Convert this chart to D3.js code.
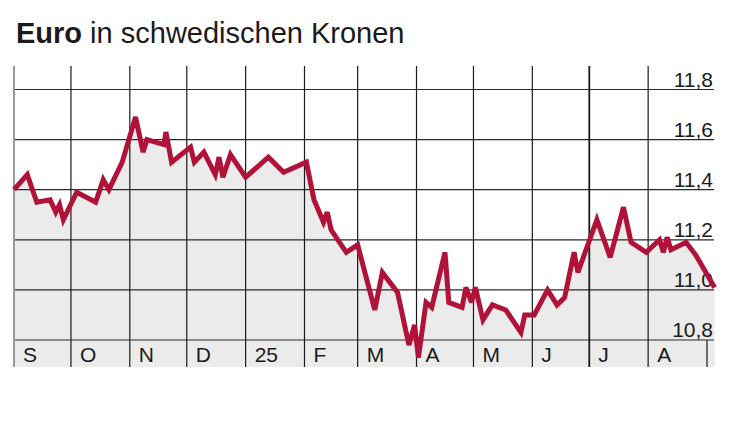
<!DOCTYPE html>
<html>
<head>
<meta charset="utf-8">
<script src="https://cdn.jsdelivr.net/npm/d3@7"></script>
<style>
  html, body { margin: 0; padding: 0; background: #fff; }
  svg { display: block; }
  text { font-family: "Liberation Sans", Arial, Helvetica, sans-serif; fill: #1a1a1a; }
</style>
</head>
<body>
<svg id="chart" width="750" height="421"></svg>
<script>
// ---- data ----
const dates = [
  "2024-09-01","2024-09-08","2024-09-13","2024-09-20","2024-09-23","2024-09-25","2024-09-27",
  "2024-10-04","2024-10-14","2024-10-18","2024-10-21","2024-10-28",
  "2024-11-04","2024-11-08","2024-11-10","2024-11-19","2024-11-20","2024-11-23",
  "2024-12-03","2024-12-05","2024-12-10","2024-12-16","2024-12-18","2024-12-20","2024-12-24",
  "2025-01-01","2025-01-13","2025-01-21",
  "2025-02-02","2025-02-06","2025-02-11","2025-02-13","2025-02-15","2025-02-23",
  "2025-03-01","2025-03-10","2025-03-14","2025-03-22","2025-03-28","2025-03-31",
  "2025-04-02","2025-04-06","2025-04-09","2025-04-16","2025-04-18","2025-04-25","2025-04-27","2025-04-30",
  "2025-05-02","2025-05-06","2025-05-11","2025-05-18","2025-05-26","2025-05-28",
  "2025-06-02","2025-06-09","2025-06-14","2025-06-18","2025-06-23","2025-06-25",
  "2025-07-05","2025-07-12","2025-07-19","2025-07-23","2025-07-31",
  "2025-08-07","2025-08-09","2025-08-11","2025-08-13","2025-08-21","2025-08-26",
  "2025-09-05"
];
const values = [
  11.40,11.46,11.35,11.36,11.31,11.34,11.28,
  11.39,11.35,11.44,11.40,11.51,
  11.69,11.55,11.60,11.58,11.63,11.51,
  11.57,11.51,11.55,11.46,11.53,11.45,11.54,
  11.45,11.53,11.47,
  11.51,11.36,11.27,11.31,11.24,11.15,
  11.18,10.92,11.07,10.99,10.78,10.86,
  10.73,10.95,10.93,11.15,10.95,10.93,11.01,10.95,
  11.01,10.88,10.94,10.92,10.83,10.90,
  10.90,11.00,10.94,10.97,11.15,11.07,
  11.28,11.13,11.33,11.19,11.15,
  11.20,11.15,11.21,11.16,11.19,11.14,
  11.01
];
const monthStarts = [
  "2024-09-01","2024-10-01","2024-11-01","2024-12-01","2025-01-01","2025-02-01",
  "2025-03-01","2025-04-01","2025-05-01","2025-06-01","2025-07-01","2025-08-01","2025-09-01"
];
const monthLabels = ["S","O","N","D","25","F","M","A","M","J","J","A"];
const yTicks = [10.8, 11.0, 11.2, 11.4, 11.6, 11.8];
const yTickLabels = ["10,8","11,0","11,2","11,4","11,6","11,8"];
const titleBold = "Euro";
const titleRest = " in schwedischen Kronen";

// ---- layout ----
const parse = d3.timeParse("%Y-%m-%d");
const data = dates.map((d, i) => ({ date: parse(d), value: values[i] }));
const months = monthStarts.map(parse);

const left = 14, right = 714, gridTop = 66, bottom = 367;
const x = d3.scaleTime()
  .domain([parse("2024-09-01"), parse("2025-09-01")])
  .range([left, 707]);
const y = d3.scaleLinear().domain([10.8, 11.8]).range([340, 89.5]);

const svg = d3.select("#chart");

// title
const title = svg.append("text").attr("x", 16).attr("y", 42.5).style("font-size", "29px");
title.append("tspan").attr("font-weight", "bold").text(titleBold);
title.append("tspan").text(titleRest);

// area fill under the line (down to bottom of label band)
const lastDate = data[data.length - 1].date;
const area = d3.area()
  .x(d => x(d.date))
  .y0(bottom)
  .y1(d => y(d.value));
svg.append("path")
  .datum(data)
  .attr("d", area)
  .attr("fill", "#ebebeb");

// fill the label band completely
svg.append("rect")
  .attr("x", left).attr("y", y(10.8))
  .attr("width", x(lastDate) - left).attr("height", bottom - y(10.8))
  .attr("fill", "#ebebeb");

// horizontal grid lines
svg.append("g").selectAll("line")
  .data(yTicks)
  .join("line")
  .attr("x1", left).attr("x2", right)
  .attr("y1", d => y(d)).attr("y2", d => y(d))
  .attr("stroke", "#2a2a2a").attr("stroke-width", 1.2);

// vertical month lines
svg.append("g").selectAll("line")
  .data(months.slice(1))
  .join("line")
  .attr("x1", d => x(d)).attr("x2", d => x(d))
  .attr("y1", (d, i) => i === months.length - 2 ? y(10.8) : gridTop)
  .attr("y2", bottom)
  .attr("stroke", "#1a1a1a")
  .attr("stroke-width", (d, i) => i === 9 ? 1.8 : 1.2);

// left border
svg.append("line")
  .attr("x1", left).attr("x2", left)
  .attr("y1", gridTop).attr("y2", bottom)
  .attr("stroke", "#9a9a9a").attr("stroke-width", 2);

// y tick labels
svg.append("g").selectAll("text")
  .data(yTicks)
  .join("text")
  .attr("x", 713)
  .attr("y", d => y(d) - 3)
  .attr("text-anchor", "end")
  .style("font-size", "21px")
  .text((d, i) => yTickLabels[i]);

// month labels
svg.append("g").selectAll("text")
  .data(monthLabels)
  .join("text")
  .attr("x", (d, i) => x(months[i]) + 9)
  .attr("y", 362)
  .style("font-size", "21px")
  .text(d => d);

// line
const line = d3.line()
  .x(d => x(d.date))
  .y(d => y(d.value));
svg.append("path")
  .datum(data)
  .attr("d", line)
  .attr("fill", "none")
  .attr("stroke", "#b0123a")
  .attr("stroke-width", 5)
  .attr("stroke-linejoin", "miter")
  .attr("stroke-miterlimit", 3)
  .attr("stroke-linecap", "butt");
</script>
</body>
</html>
